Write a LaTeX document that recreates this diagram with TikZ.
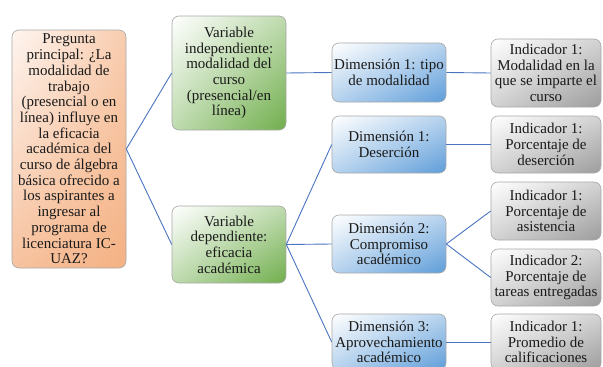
\documentclass[tikz,border=0pt]{standalone}
\usepackage{fontspec}
\setmainfont{Liberation Serif}
\usetikzlibrary{shadings}
\definecolor{orangeC}{HTML}{F4B183}
\definecolor{peachC}{HTML}{FEF5F0}
\definecolor{greenC}{HTML}{70AE4C}
\definecolor{blueC}{HTML}{5E9DD9}
\definecolor{grayC}{HTML}{9C9C9C}
\definecolor{linkC}{HTML}{4A74C0}
\definecolor{edgeC}{HTML}{A8A8A8}
\definecolor{textC}{HTML}{1A1A1A}

\begin{document}
\begin{tikzpicture}[x=1pt, y=-1pt,
  box/.style={rectangle, draw=edgeC, line width=0.6pt, rounded corners=7pt,
    minimum width=114pt, inner sep=0pt, align=center, text=textC,
    font=\fontsize{15pt}{15.7pt}\selectfont},
  qbox/.style={box, upper left=peachC, upper right=orangeC!60!peachC,
    lower left=orangeC!75!peachC, lower right=orangeC},
  vbox/.style={box, upper left=white, upper right=greenC!45!white,
    lower left=greenC!45!white, lower right=greenC},
  dbox/.style={box, upper left=white, upper right=blueC!45!white,
    lower left=blueC!45!white, lower right=blueC},
  ibox/.style={box, minimum width=110pt, upper left=white, upper right=grayC!45!white,
    lower left=grayC!45!white, lower right=grayC},
  link/.style={draw=linkC, line width=0.9pt}]
  \useasboundingbox (0,0) rectangle (603,367);
  \clip (0,0) rectangle (603,367);

  \node[qbox, minimum height=238pt] (preg) at (69,149) {Pregunta\\principal: ¿La\\modalidad de\\trabajo\\(presencial o en\\línea) influye en\\la eficacia\\académica del\\curso de álgebra\\básica ofrecido a\\los aspirantes a\\ingresar al\\programa de\\licenciatura IC-\\UAZ?};

  \node[vbox, minimum height=114pt] (vind) at (229,73) {Variable\\independiente:\\modalidad del\\curso\\(presencial/en\\línea)};
  \node[vbox, minimum height=77pt] (vdep) at (229,244.5) {Variable\\dependiente:\\eficacia\\académica};

  \node[dbox, minimum height=59pt] (dmod) at (389,72.5) {Dimensión 1: tipo\\de modalidad};
  \node[dbox, minimum height=57pt] (ddes) at (389,144.5) {Dimensión 1:\\Deserción};
  \node[dbox, minimum height=58pt] (dcom) at (389,244) {Dimensión 2:\\Compromiso\\académico};
  \node[dbox, minimum height=56pt] (dapr) at (389,342) {Dimensión 3:\\Aprovechamiento\\académico};

  \node[ibox, minimum height=68pt] (imod) at (546,73) {Indicador 1:\\Modalidad en la\\que se imparte el\\curso};
  \node[ibox, minimum height=57pt] (ides) at (546,144.5) {Indicador 1:\\Porcentaje de\\deserción};
  \node[ibox, minimum height=58pt] (iasi) at (546,211) {Indicador 1:\\Porcentaje de\\asistencia};
  \node[ibox, minimum height=57pt] (itar) at (546,277.5) {Indicador 2:\\Porcentaje de\\tareas entregadas};
  \node[ibox, minimum height=56pt] (ipro) at (546,342) {Indicador 1:\\Promedio de\\calificaciones};

  % connectors
  \draw[link] (preg.east) -- (vind.west);
  \draw[link] (preg.east) -- (vdep.west);
  \draw[link] (vind.east) -- (dmod.west);
  \draw[link] (vdep.east) -- (ddes.west);
  \draw[link] (vdep.east) -- (dcom.west);
  \draw[link] (vdep.east) -- (dapr.west);
  \draw[link] (dmod.east) -- (imod.west);
  \draw[link] (ddes.east) -- (ides.west);
  \draw[link] (dcom.east) -- (iasi.west);
  \draw[link] (dcom.east) -- (itar.west);
  \draw[link] (dapr.east) -- (ipro.west);
\end{tikzpicture}
\end{document}
